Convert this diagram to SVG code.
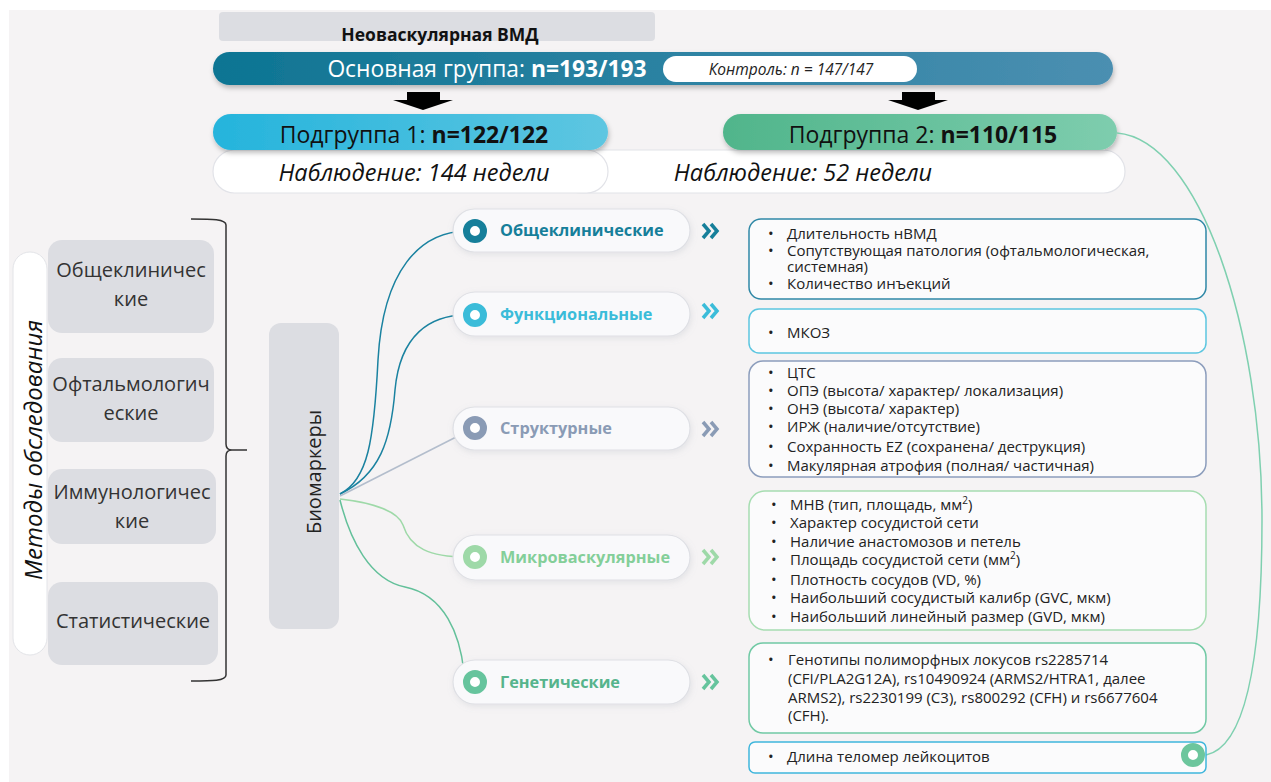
<svg xmlns="http://www.w3.org/2000/svg" width="1271" height="782" viewBox="0 0 1271 782">
<defs>
<linearGradient id="gMain" x1="0" y1="0" x2="1" y2="0"><stop offset="0" stop-color="#0d7593"/><stop offset="1" stop-color="#4b8fb1"/></linearGradient>
<linearGradient id="gS1" x1="0" y1="0" x2="1" y2="0"><stop offset="0" stop-color="#25b4dc"/><stop offset="1" stop-color="#5ec6e1"/></linearGradient>
<linearGradient id="gS2" x1="0" y1="0" x2="1" y2="0"><stop offset="0" stop-color="#50b58b"/><stop offset="1" stop-color="#7ecdae"/></linearGradient>
<filter id="sh" x="-10%" y="-30%" width="120%" height="170%"><feDropShadow dx="1" dy="3" stdDeviation="2.5" flood-color="#000" flood-opacity="0.25"/></filter>
<filter id="shl" x="-10%" y="-30%" width="120%" height="170%"><feDropShadow dx="1" dy="2" stdDeviation="3" flood-color="#8890a0" flood-opacity="0.18"/></filter>
</defs>
<style>
text{font-family:"Open Sans","Noto Sans","DejaVu Sans",sans-serif;}
.grey{fill:#dcdde2;}
.lbl{font-size:20px;fill:#333;text-anchor:middle;}
.pill{fill:#f9f9fb;stroke:#dfe0e5;stroke-width:1.2;}
.cat{font-size:16.3px;font-weight:bold;}
.box{fill:#fbfbfc;stroke-width:1.5;}
.it{font-size:15px;fill:#222;}
.conn{fill:none;stroke-width:1.5;}
.chev{fill:none;stroke-width:3.5;stroke-linecap:butt;stroke-linejoin:miter;}
</style>
<rect x="0" y="0" width="1271" height="782" fill="#ffffff"/>
<rect x="9" y="10" width="1262" height="772" fill="#f5f3f4"/>

<g id="header">
<rect x="219" y="12" width="436" height="29" rx="4" class="grey"/>
<text x="440" y="41" font-size="17.5" font-weight="bold" fill="#111" text-anchor="middle">Неоваскулярная ВМД</text>
</g>

<g id="main-group">
<rect x="213" y="52" width="900" height="33" rx="16.5" fill="url(#gMain)" filter="url(#sh)"/>
<text x="487" y="77" font-size="22.8" fill="#fff" text-anchor="middle">Основная группа: <tspan font-weight="bold">n=193/193</tspan></text>
</g>
<g id="control">
<rect x="663" y="56" width="254" height="26" rx="13" fill="#fff"/>
<text x="791" y="75" font-size="15.5" font-style="italic" fill="#222" text-anchor="middle">Контроль: n = 147/147</text>
</g>

<g id="arrows">
<path d="M407,92 H440 V100 H453 L423,110 L393,100 H407 Z" fill="#000"/>
<path d="M902,92 H935 V100 H948 L918,110 L888,100 H902 Z" fill="#000"/>
</g>

<g id="obs2">
<rect x="560" y="150" width="565" height="43" rx="21.5" fill="#fff" stroke="#e2e3e8" stroke-width="1.2"/>
<text x="803" y="181" font-size="23.5" font-style="italic" fill="#111" text-anchor="middle">Наблюдение: 52 недели</text>
</g>
<g id="obs1">
<rect x="213" y="150" width="395" height="43" rx="21.5" fill="#fff" stroke="#e2e3e8" stroke-width="1.2"/>
<text x="414" y="181" font-size="23.5" font-style="italic" fill="#111" text-anchor="middle">Наблюдение: 144 недели</text>
</g>
<g id="subgroup1">
<rect x="213" y="114" width="395" height="36" rx="18" fill="url(#gS1)" filter="url(#sh)"/>
<text x="414" y="143" font-size="23" fill="#111" text-anchor="middle">Подгруппа 1: <tspan font-weight="bold">n=122/122</tspan></text>
</g>
<g id="subgroup2">
<rect x="723" y="114" width="394" height="36" rx="18" fill="url(#gS2)" filter="url(#sh)"/>
<text x="923" y="143" font-size="23" fill="#111" text-anchor="middle">Подгруппа 2: <tspan font-weight="bold">n=110/115</tspan></text>
</g>

<g id="methods">
<rect x="13" y="252" width="34" height="403" rx="17" fill="#fff" stroke="#e3e4e8" stroke-width="1"/>
<text transform="translate(42,450) rotate(-90)" font-size="24" font-style="italic" fill="#111" text-anchor="middle">Методы обследования</text>
</g>
<g id="m1"><rect x="48" y="240" width="166" height="93" rx="14" class="grey"/>
<text class="lbl" x="131" y="277">Общеклиничес</text><text class="lbl" x="131" y="306">кие</text></g>
<g id="m2"><rect x="48" y="358" width="166" height="84" rx="14" class="grey"/>
<text class="lbl" x="131" y="391">Офтальмологич</text><text class="lbl" x="131" y="420">еские</text></g>
<g id="m3"><rect x="48" y="469" width="168" height="75" rx="14" class="grey"/>
<text class="lbl" x="132" y="499">Иммунологичес</text><text class="lbl" x="132" y="528">кие</text></g>
<g id="m4"><rect x="48" y="582" width="170" height="83" rx="14" class="grey"/>
<text class="lbl" x="133" y="628">Статистические</text></g>

<g id="brace">
<path d="M191,219 C212,219 226,219 226,225 V444 Q226,450 232,450 H247 M232,450 Q226,450 226,456 V675 C226,681 212,681 191,681" fill="none" stroke="#333" stroke-width="1.5"/>
</g>

<g id="biomarkers">
<rect x="269" y="323" width="70" height="306" rx="12" class="grey"/>
<text transform="translate(321,472) rotate(-90)" font-size="20" fill="#222" text-anchor="middle">Биомаркеры</text>
</g>

<g id="connectors">
<path class="conn" stroke="#1a82a0" d="M340,494 C368,480 374,440 378,360 C383,270 420,232 466,231"/>
<path class="conn" stroke="#1a82a0" d="M340,494 C380,475 391,440 395,390 C400,335 430,315 466,315"/>
<path class="conn" stroke="#b3bdcc" d="M340,496 L466,432"/>
<path class="conn" stroke="#9ed9a8" d="M340,499 C375,503 398,512 403,525 C410,548 430,557 466,557"/>
<path class="conn" stroke="#63c09a" d="M340,500 C350,540 370,580 405,587 C445,595 460,635 464,672"/>
<path class="conn" stroke="#7fd0b0" d="M1117,133 C1200,140 1262,330 1262,520 C1262,680 1240,748 1206,755"/>
</g>

<g id="cat1">
<rect x="453" y="209" width="237" height="43" rx="21.5" class="pill" filter="url(#shl)"/>
<circle cx="475" cy="231" r="8.5" fill="#fff" stroke="#167f9a" stroke-width="7"/>
<text class="cat" x="500" y="236" fill="#167f9a">Общеклинические</text>
<path class="chev" stroke="#167f9a" d="M703,224 L709,231 L703,238 M711,224 L717,231 L711,238"/>
</g>
<g id="cat2">
<rect x="453" y="292" width="237" height="44" rx="22" class="pill" filter="url(#shl)"/>
<circle cx="475" cy="315" r="8.5" fill="#fff" stroke="#3bbcd9" stroke-width="7"/>
<text class="cat" x="500" y="320" fill="#3bbcd9">Функциональные</text>
<path class="chev" stroke="#3bbcd9" d="M703,304 L709,311 L703,318 M711,304 L717,311 L711,318"/>
</g>
<g id="cat3">
<rect x="453" y="407" width="237" height="43" rx="21.5" class="pill" filter="url(#shl)"/>
<circle cx="475" cy="428" r="8.5" fill="#fff" stroke="#8a9bb5" stroke-width="7"/>
<text class="cat" x="500" y="434" fill="#8a9bb5">Структурные</text>
<path class="chev" stroke="#8a9bb5" d="M703,422 L709,429 L703,436 M711,422 L717,429 L711,436"/>
</g>
<g id="cat4">
<rect x="453" y="535" width="237" height="45" rx="22.5" class="pill" filter="url(#shl)"/>
<circle cx="475" cy="557" r="8.5" fill="#fff" stroke="#9ed9a8" stroke-width="7"/>
<text class="cat" x="500" y="563" fill="#84cf99">Микроваскулярные</text>
<path class="chev" stroke="#9ed9a8" d="M703,550 L709,557 L703,564 M711,550 L717,557 L711,564"/>
</g>
<g id="cat5">
<rect x="453" y="660" width="237" height="44" rx="22" class="pill" filter="url(#shl)"/>
<circle cx="475" cy="682" r="8.5" fill="#fff" stroke="#66c49d" stroke-width="7"/>
<text class="cat" x="500" y="688" fill="#56b48c">Генетические</text>
<path class="chev" stroke="#66c49d" d="M703,675 L709,682 L703,689 M711,675 L717,682 L711,689"/>
</g>

<g id="d1">
<rect x="749" y="219" width="457" height="80" rx="12" class="box" stroke="#2f88a6"/>
<text class="it"><tspan x="768" y="239">•</tspan><tspan x="787" y="239">Длительность нВМД</tspan>
<tspan x="768" y="256">•</tspan><tspan x="787" y="256">Сопутствующая патология (офтальмологическая,</tspan>
<tspan x="787" y="272">системная)</tspan>
<tspan x="768" y="289">•</tspan><tspan x="787" y="289">Количество инъекций</tspan></text>
</g>
<g id="d2">
<rect x="749" y="309" width="457" height="44" rx="10" class="box" stroke="#5cc6e0"/>
<text class="it"><tspan x="768" y="338">•</tspan><tspan x="787" y="338">МКОЗ</tspan></text>
</g>
<g id="d3">
<rect x="749" y="361" width="457" height="116" rx="14" class="box" stroke="#8c9dbc"/>
<text class="it"><tspan x="768" y="378">•</tspan><tspan x="787" y="378">ЦТС</tspan>
<tspan x="768" y="396">•</tspan><tspan x="787" y="396">ОПЭ (высота/ характер/ локализация)</tspan>
<tspan x="768" y="414">•</tspan><tspan x="787" y="414">ОНЭ (высота/ характер)</tspan>
<tspan x="768" y="432">•</tspan><tspan x="787" y="432">ИРЖ (наличие/отсутствие)</tspan>
<tspan x="768" y="452">•</tspan><tspan x="787" y="452">Сохранность EZ (сохранена/ деструкция)</tspan>
<tspan x="768" y="471">•</tspan><tspan x="787" y="471">Макулярная атрофия (полная/ частичная)</tspan></text>
</g>
<g id="d4">
<rect x="749" y="491" width="457" height="139" rx="16" class="box" stroke="#a6ddb1"/>
<text class="it"><tspan x="771" y="510">•</tspan><tspan x="790" y="510">МНВ (тип, площадь, мм<tspan dy="-6" font-size="10">2</tspan><tspan dy="6">)</tspan></tspan>
<tspan x="771" y="528">•</tspan><tspan x="790" y="528">Характер сосудистой сети</tspan>
<tspan x="771" y="547">•</tspan><tspan x="790" y="547">Наличие анастомозов и петель</tspan>
<tspan x="771" y="565">•</tspan><tspan x="790" y="565">Площадь сосудистой сети (мм<tspan dy="-6" font-size="10">2</tspan><tspan dy="6">)</tspan></tspan>
<tspan x="771" y="585">•</tspan><tspan x="790" y="585">Плотность сосудов (VD, %)</tspan>
<tspan x="771" y="603">•</tspan><tspan x="790" y="603">Наибольший сосудистый калибр (GVC, мкм)</tspan>
<tspan x="771" y="622">•</tspan><tspan x="790" y="622">Наибольший линейный размер (GVD, мкм)</tspan></text>
</g>
<g id="d5">
<rect x="749" y="643" width="457" height="90" rx="14" class="box" stroke="#70c9a4"/>
<text class="it"><tspan x="768" y="665">•</tspan><tspan x="788" y="665">Генотипы полиморфных локусов rs2285714</tspan>
<tspan x="788" y="684">(CFI/PLA2G12A), rs10490924 (ARMS2/HTRA1, далее</tspan>
<tspan x="788" y="703">ARMS2), rs2230199 (C3), rs800292 (CFH) и rs6677604</tspan>
<tspan x="788" y="721">(CFH).</tspan></text>
</g>
<g id="d6">
<rect x="749" y="742" width="457" height="31" rx="6" class="box" stroke="#3fb6dc"/>
<text class="it"><tspan x="768" y="762">•</tspan><tspan x="787" y="762">Длина теломер лейкоцитов</tspan></text>
<circle cx="1193" cy="755" r="8.5" fill="#fff" stroke="#6cc69d" stroke-width="7"/>
</g>
</svg>
